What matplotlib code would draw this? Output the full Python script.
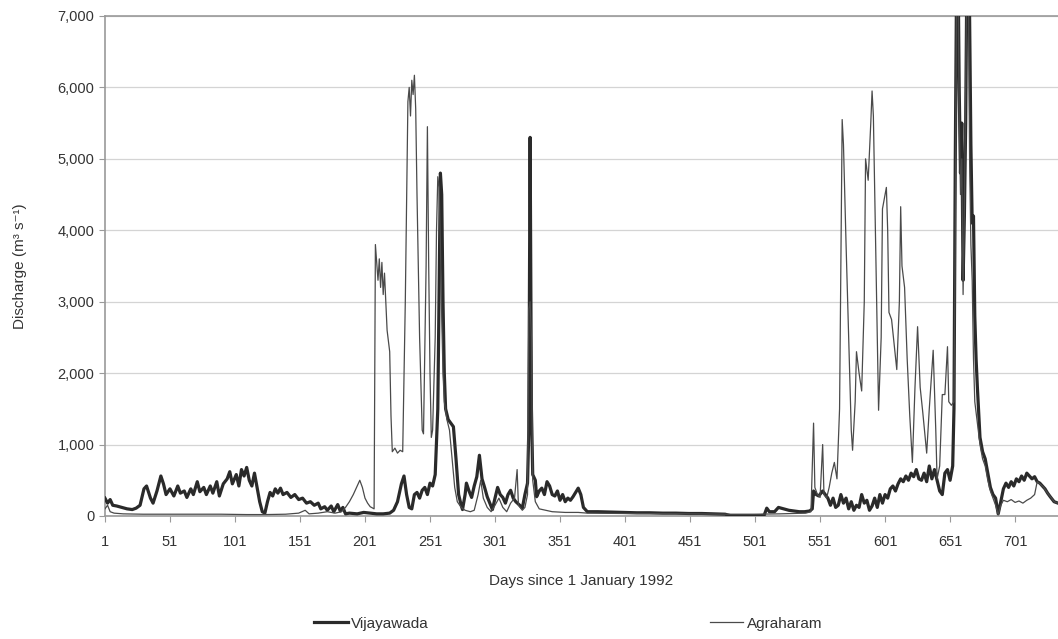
import matplotlib
matplotlib.use("Agg")
import matplotlib.pyplot as plt
from matplotlib.ticker import StrMethodFormatter

plt.rcParams['font.family'] = ['Liberation Sans Narrow', 'Liberation Sans', 'DejaVu Sans']

# Vijayawada daily discharge, day -> m3/s
vj_days = [1, 3, 5, 7, 10, 14, 18, 22, 25, 28, 31, 33, 36, 38, 41, 44, 46, 48, 51, 54,
           57, 59, 62, 64, 67, 69, 72, 74, 77, 79, 82, 84, 87, 89, 92, 95, 97, 99, 102, 104,
           106, 108, 110, 112, 114, 116, 118, 120, 122, 124, 126, 128, 130, 132, 134, 136, 138, 141, 144, 147,
           150, 153, 156, 159, 162, 165, 167, 170, 172, 175, 177, 180, 182, 184, 186, 189, 195, 200, 205, 210,
           215, 220, 223, 226, 229, 231, 233, 235, 237, 239, 241, 243, 245, 247, 249, 251, 253, 255, 257, 259,
           260, 261, 262, 263, 265, 267, 269, 271, 273, 275, 276, 278, 279, 281, 283, 285, 287, 289, 291, 293,
           295, 297, 299, 301, 303, 305, 307, 309, 311, 313, 315, 317, 320, 322, 324, 326, 327, 328, 329, 330,
           332, 333, 335, 337, 339, 341, 343, 345, 347, 349, 351, 353, 355, 357, 359, 361, 363, 365, 367, 369,
           372, 380, 390, 400, 410, 420, 430, 440, 450, 460, 470, 478, 482, 490, 500, 505, 508, 510, 512, 516,
           519, 523, 527, 531, 535, 539, 543, 545, 546, 548, 550, 553, 555, 557, 559, 561, 563, 565, 567, 569,
           571, 573, 575, 577, 579, 581, 583, 585, 587, 589, 591, 593, 595, 597, 599, 601, 603, 605, 607, 609,
           611, 613, 615, 617, 619, 621, 623, 625, 627, 629, 631, 633, 635, 637, 639, 641, 643, 645, 647, 649,
           651, 653, 654, 655, 656, 657, 658, 659, 660, 661, 662, 663, 664, 665, 666, 667, 668, 669, 670, 671,
           672, 674, 676, 678, 680, 682, 684, 686, 688, 690, 692, 694, 696, 698, 700, 702, 704, 706, 708, 710,
           712, 714, 716, 718, 720, 722, 724, 726, 728, 731, 734]
vj_q = [250, 180, 230, 150, 140, 120, 100, 90, 110, 150, 380, 420, 250, 180, 350, 560, 450, 300, 380, 280,
        420, 320, 350, 260, 380, 300, 480, 340, 400, 300, 420, 320, 480, 280, 450, 520, 620, 450, 580, 420,
        650, 560, 680, 500, 420, 600, 400, 200, 60, 40, 200, 330, 280, 380, 320, 390, 300, 330, 260, 300,
        230, 250, 180, 200, 150, 180, 100, 130, 80, 140, 60, 160, 70, 120, 30, 40, 30, 50, 40, 30,
        30, 40, 80, 200, 450, 560, 300, 120, 100, 300, 330, 250, 360, 400, 300, 460, 420, 580, 1500, 4800,
        4500, 3000, 2000, 1500, 1350, 1300, 1250, 800, 300, 150, 90, 300, 460, 350, 260, 420, 550, 850, 520, 400,
        270, 180, 90, 250, 400, 300, 260, 180, 300, 360, 250, 200, 150, 110, 300, 460, 1200, 5300, 1500, 580,
        500, 270, 350, 390, 300, 480, 420, 300, 280, 350, 220, 300, 200, 250, 220, 270, 330, 390, 300, 120,
        60, 60, 55, 50, 45, 45, 40, 40, 35, 35, 30, 25, 5, 5, 5, 5, 10, 110, 60, 60,
        120, 100, 80, 70, 60, 60, 70, 100, 350, 300, 280, 350, 300, 250, 150, 250, 120, 150, 300, 180,
        250, 100, 200, 80, 150, 120, 300, 180, 220, 80, 140, 250, 120, 300, 180, 300, 250, 380, 420, 350,
        450, 520, 480, 560, 500, 600, 550, 650, 520, 500, 600, 480, 700, 520, 650, 500, 350, 300, 600, 650,
        500, 700, 1500, 5000, 7500, 8000, 6000, 4800, 5500, 3300, 4200, 5500, 7800, 8200, 7000, 5200, 4100, 4200, 2800, 2200,
        1800, 1100, 900, 800, 600, 400, 300, 250, 30, 200, 380, 460, 400, 480, 420, 520, 480, 560, 500, 600,
        560, 520, 550, 480, 460, 420, 380, 320, 270, 200, 180]

# Agraharam daily discharge, day -> m3/s
ag_days = [1, 3, 5, 8, 15, 30, 50, 70, 90, 110, 125, 140, 150, 155, 158, 165, 172, 178, 183, 186,
           189, 192, 195, 197, 199, 201, 203, 205, 207, 208, 209, 211, 212, 213, 214, 215, 216, 218, 220, 221,
           222, 224, 226, 228, 230, 232, 234, 235, 236, 237, 238, 239, 240, 241, 243, 245, 246, 248, 249, 250,
           251, 252, 253, 255, 256, 257, 258, 259, 260, 261, 262, 264, 266, 268, 270, 272, 275, 278, 282, 285,
           288, 290, 292, 295, 298, 301, 304, 307, 310, 313, 316, 318, 319, 322, 324, 326, 327, 328, 329, 330,
           332, 335, 340, 345, 355, 365, 372, 400, 450, 480, 500, 520, 540, 544, 546, 547, 549, 551, 553, 554,
           556, 558, 560, 562, 564, 566, 568, 569, 571, 573, 575, 576, 578, 579, 581, 583, 585, 586, 588, 590,
           591, 592, 594, 596, 598, 599, 601, 602, 603, 604, 606, 608, 610, 612, 613, 614, 616, 618, 620, 622,
           624, 626, 628, 630, 633, 635, 638, 640, 641, 643, 645, 647, 649, 650, 652, 654, 655, 656, 657, 658,
           659, 660, 661, 662, 663, 664, 665, 666, 667, 668, 669, 670, 672, 674, 676, 678, 680, 682, 684, 686,
           688, 690, 692, 695, 698, 701, 704, 707, 710, 713, 716, 718, 720, 723, 726, 729, 731, 734]
ag_q = [100, 150, 60, 40, 30, 25, 25, 25, 25, 20, 20, 25, 40, 80, 30, 40, 60, 40, 60, 120,
        200, 300, 420, 500, 400, 250, 180, 130, 110, 100, 3800, 3300, 3600, 3200, 3550, 3100, 3400, 2600, 2300, 1400,
        900, 950, 880, 920, 900, 3000, 5800, 6000, 5600, 6100, 5900, 6170, 5700, 4500, 2500, 1200, 1150, 3500, 5450, 3500,
        2000, 1100, 1200, 2500, 4000, 4750, 4600, 3800, 2800, 2000, 1600, 1350, 1200, 800, 400, 200, 120, 80, 60, 80,
        300, 500, 250, 120, 60, 150, 250, 120, 60, 180, 250, 650, 150, 80, 120, 300, 2900, 3000, 2500, 500,
        200, 100, 80, 60, 50, 50, 40, 35, 30, 25, 25, 30, 40, 60, 1300, 400, 300, 260, 1000, 300,
        250, 400, 600, 750, 520, 1500, 5550, 5200, 3800, 2500, 1200, 920, 1600, 2300, 2000, 1750, 3000, 5000, 4700, 5500,
        5950, 5600, 3500, 1480, 2500, 4300, 4500, 4600, 4000, 2850, 2750, 2400, 2050, 3000, 4330, 3500, 3200, 2200, 1400, 750,
        1800, 2650, 1800, 1450, 880, 1500, 2320, 1200, 520, 700, 1700, 1700, 2370, 1600, 1550, 1600, 4000, 7500, 7800, 5600,
        4500, 5000, 3100, 4300, 6000, 7800, 7600, 5000, 3800, 3300, 2200, 1600, 1300, 1000, 800, 700, 500, 350, 250, 150,
        20, 150, 220, 200, 230, 190, 210, 180, 220, 250, 300, 480, 450, 400, 320, 250, 200, 180]

x_ticks = list(range(1, 702, 50))
y_ticks = list(range(0, 7001, 1000))

fig = plt.figure(figsize=(10.58, 6.39), dpi=100)
ax = fig.add_axes([0.0992, 0.1925, 0.9008, 0.7825])

ax.plot(vj_days, vj_q, color="#2a2a2a", lw=2.3, label="Vijayawada", zorder=3)
ax.plot(ag_days, ag_q, color="#4a4a4a", lw=0.9, label="Agraharam", zorder=4)

ax.set_xlim(1, 734)
ax.set_ylim(0, 7000)
ax.set_xticks(x_ticks)
ax.set_yticks(y_ticks)
ax.yaxis.set_major_formatter(StrMethodFormatter("{x:,.0f}"))
ax.grid(axis="y", color="#d4d4d4", lw=0.9)
ax.set_axisbelow(True)

for s in ["left", "bottom", "top"]:
    ax.spines[s].set_color("#9a9a9a")
    ax.spines[s].set_linewidth(1.2)
ax.spines["right"].set_visible(False)
ax.tick_params(axis="both", colors="#9a9a9a", labelcolor="#333333", labelsize=10.5, length=4)
ax.tick_params(axis="x", pad=10)

ax.set_xlabel("Days since 1 January 1992", fontsize=11, color="#333333", labelpad=18)
ax.set_ylabel("Discharge (m³ s⁻¹)", fontsize=11, color="#333333", labelpad=22)

fig.legend(loc="center", bbox_to_anchor=(0.537, 0.024), ncol=2, frameon=False,
           fontsize=11, handlelength=2.2, handletextpad=0.2, columnspacing=18.4,
           labelcolor="#333333")

fig.savefig("out.png", dpi=100)
